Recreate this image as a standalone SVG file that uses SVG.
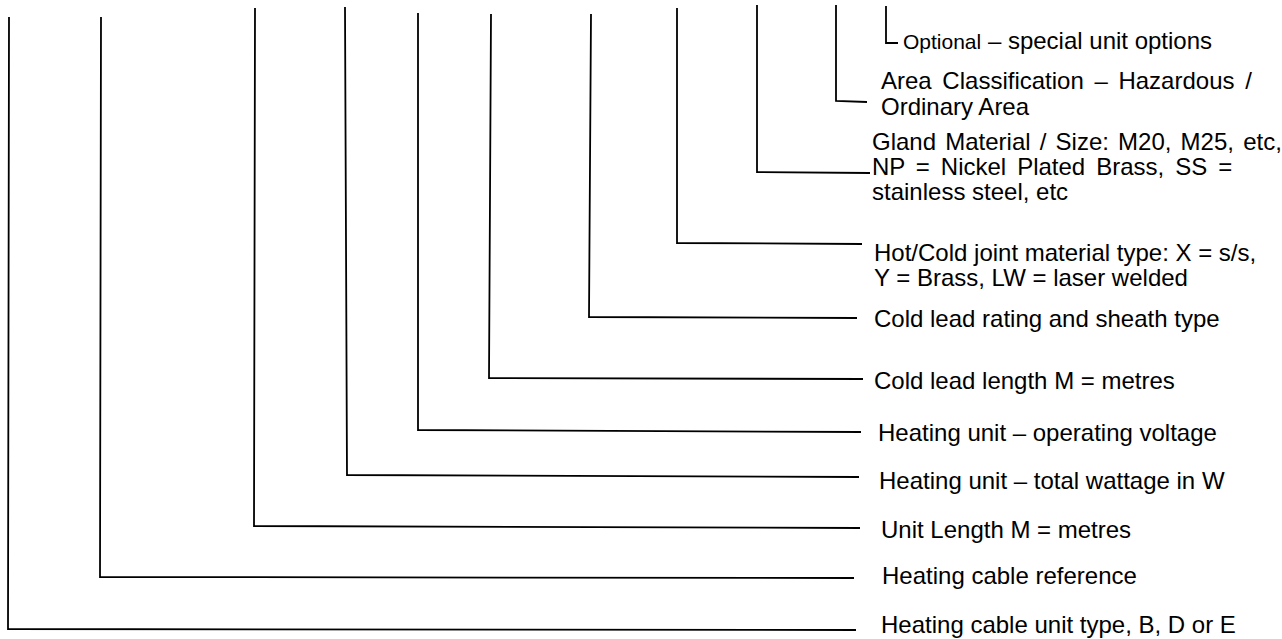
<svg xmlns="http://www.w3.org/2000/svg" width="1282" height="639" viewBox="0 0 1282 639">
<style>
.c{fill:none;stroke:#000;stroke-width:1.8;stroke-linejoin:miter}
.t{font-family:"Liberation Sans",Arial,sans-serif;font-size:24px;fill:#000}
.s{font-size:21px}
</style>
<rect width="1282" height="639" fill="#fff"/>
<g id="connectors">
<polyline class="c" points="9,17 8,629 856,630"/>
<polyline class="c" points="101,17 100,577 854,578"/>
<polyline class="c" points="255,8 254,526 860,528"/>
<polyline class="c" points="345,7 347,475 859,477"/>
<polyline class="c" points="418,13 418,430 861,432"/>
<polyline class="c" points="491,14 489,378 863,379"/>
<polyline class="c" points="591,14 589,317 857,318"/>
<polyline class="c" points="677,8 677,243 862,244"/>
<polyline class="c" points="757,5 757,172 870,173"/>
<polyline class="c" points="836,5 836,101 867,102"/>
<polyline class="c" points="886,6 886,43 898,43"/>
</g>
<g id="n-optional"><text class="t" x="903" y="49"><tspan class="s">Optional</tspan> – special unit options</text></g>
<g id="n-area"><text class="t" x="881" y="89" word-spacing="4">Area Classification – Hazardous /</text><text class="t" x="881" y="115">Ordinary Area</text></g>
<g id="n-gland"><text class="t" x="872" y="150" word-spacing="2.5">Gland Material / Size: M20, M25, etc,</text><text class="t" x="872" y="175" word-spacing="4.3">NP = Nickel Plated Brass, SS =</text><text class="t" x="872" y="200">stainless steel, etc</text></g>
<g id="n-joint"><text class="t" x="874" y="261">Hot/Cold joint material type: X = s/s,</text><text class="t" x="874" y="286">Y = Brass, LW = laser welded</text></g>
<g id="n-rating"><text class="t" x="874" y="327">Cold lead rating and sheath type</text></g>
<g id="n-coldlen"><text class="t" x="874" y="389">Cold lead length M = metres</text></g>
<g id="n-voltage"><text class="t" x="878" y="441">Heating unit – operating voltage</text></g>
<g id="n-wattage"><text class="t" x="879" y="489">Heating unit – total wattage in W</text></g>
<g id="n-unitlen"><text class="t" x="881" y="538">Unit Length M = metres</text></g>
<g id="n-ref"><text class="t" x="882" y="584">Heating cable reference</text></g>
<g id="n-type"><text class="t" x="881" y="633">Heating cable unit type, B, D or E</text></g>
</svg>
